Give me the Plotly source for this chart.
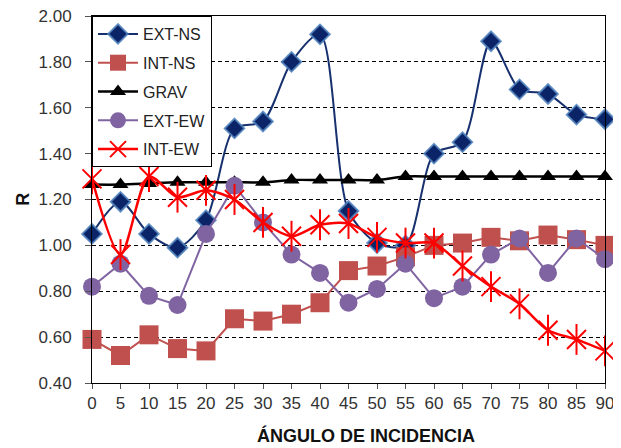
import plotly.graph_objects as go

# data
angulos = [0, 5, 10, 15, 20, 25, 30, 35, 40, 45, 50, 55, 60, 65, 70, 75, 80, 85, 90]
ext_ns = [1.05, 1.19, 1.05, 0.99, 1.11, 1.51, 1.54, 1.80, 1.92, 1.15, 1.01, 1.00,
          1.40, 1.45, 1.89, 1.68, 1.66, 1.57, 1.55]
int_ns = [0.59, 0.52, 0.61, 0.55, 0.54, 0.68, 0.67, 0.70, 0.75, 0.89, 0.91, 0.95,
          1.00, 1.01, 1.035, 1.02, 1.045, 1.025, 1.00]
grav = [1.265, 1.265, 1.27, 1.275, 1.275, 1.275, 1.275, 1.285, 1.285, 1.285, 1.285, 1.30,
        1.30, 1.30, 1.30, 1.30, 1.30, 1.30, 1.30]
ext_ew = [0.82, 0.92, 0.78, 0.74, 1.05, 1.26, 1.10, 0.96, 0.88, 0.75, 0.81, 0.92,
          0.77, 0.82, 0.96, 1.03, 0.88, 1.03, 0.94]
int_ew = [1.29, 0.96, 1.30, 1.21, 1.24, 1.20, 1.10, 1.04, 1.09, 1.095, 1.035, 1.01,
          1.01, 0.91, 0.82, 0.745, 0.63, 0.59, 0.54]

y_ticks = [0.40, 0.60, 0.80, 1.00, 1.20, 1.40, 1.60, 1.80, 2.00]

FONT = "Liberation Sans, Arial, sans-serif"

fig = go.Figure()

fig.add_trace(go.Scatter(
    x=angulos, y=ext_ns, name="EXT-NS", mode="lines+markers",
    line=dict(color="#17306E", width=2, shape="spline", smoothing=0.8),
    marker=dict(symbol="diamond", size=15, color="#0B2468",
                line=dict(color="rgba(79,129,189,0.85)", width=2)),
    legendgroup="a", cliponaxis=False))

fig.add_trace(go.Scatter(
    x=angulos, y=int_ns, name="INT-NS", mode="lines+markers",
    line=dict(color="#C0504D", width=2),
    marker=dict(symbol="square", size=19, color="#C0504D"),
    legendgroup="b", cliponaxis=False))

fig.add_trace(go.Scatter(
    x=angulos, y=grav, name="GRAV", mode="lines+markers",
    line=dict(color="black", width=2.5, shape="spline", smoothing=0.8),
    marker=dict(symbol="triangle-up", size=14, color="black"),
    legendgroup="c", cliponaxis=False))

fig.add_trace(go.Scatter(
    x=angulos, y=ext_ew, name="EXT-EW", mode="lines+markers",
    line=dict(color="#8064A2", width=2),
    marker=dict(symbol="circle", size=18, color="#8064A2"),
    legendgroup="d", cliponaxis=False))

fig.add_trace(go.Scatter(
    x=angulos, y=int_ew, name="INT-EW", mode="lines+markers",
    line=dict(color="#FF0000", width=2.5, shape="spline", smoothing=0.8),
    marker=dict(symbol="x-thin-open", size=19, color="#FF0000",
                line=dict(color="#FF0000", width=2)),
    legendgroup="e", cliponaxis=False))

# vertical stroke of the Excel star marker
fig.add_trace(go.Scatter(
    x=angulos, y=int_ew, mode="markers", showlegend=False, hoverinfo="skip",
    marker=dict(symbol="line-ns-open", size=22, color="#FF0000",
                line=dict(color="#FF0000", width=2)),
    legendgroup="e", cliponaxis=False))

# page body adds ~8px offset, margins compensate for it
fig.update_layout(
    width=613, height=440,
    margin=dict(l=84, r=16, t=8, b=65),
    paper_bgcolor="white", plot_bgcolor="white",
    font=dict(family=FONT, size=17, color="#333333"),
    showlegend=True,
    legend=dict(x=0, y=1, xanchor="left", yanchor="top",
                bgcolor="white", bordercolor="black", borderwidth=1,
                font=dict(size=16, color="#222222"),
                tracegroupgap=5, itemwidth=40),
    xaxis=dict(
        range=[0, 90], tickmode="array", tickvals=angulos,
        showgrid=False, zeroline=False, automargin=False,
        showline=True, linecolor="black", linewidth=1, mirror=True,
        ticks="outside", ticklen=5, tickcolor="#555555",
    ),
    yaxis=dict(
        range=[0.4, 2.0], tickmode="array", tickvals=y_ticks,
        ticktext=[f"{v:.2f}" for v in y_ticks],
        showgrid=True, gridcolor="black", gridwidth=1, griddash="4px,3px",
        zeroline=False, automargin=False,
        showline=True, linecolor="black", linewidth=1, mirror=True,
        ticks="outside", ticklen=6, tickcolor="#555555",
        ticklabelstandoff=10, ticklabeloverflow="allow",
    ),
    annotations=[
        dict(text="<b>ÁNGULO DE INCIDENCIA</b>", xref="paper", yref="paper",
             x=0.534, y=-0.144, xanchor="center", yanchor="middle",
             showarrow=False, font=dict(size=18, color="#111111")),
        dict(text="<b>R</b>", xref="paper", yref="paper",
             x=-0.136, y=0.5, xanchor="center", yanchor="middle",
             textangle=-90, showarrow=False, font=dict(size=18, color="#111111")),
    ],
)

fig.write_html("out.html")
